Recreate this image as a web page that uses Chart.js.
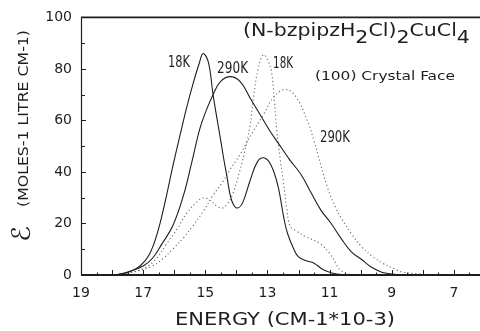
<!DOCTYPE html>
<html><head><meta charset="utf-8">
<script src="https://cdn.jsdelivr.net/npm/chart.js@4.4.1/dist/chart.umd.min.js"></script>
<style>html,body{margin:0;padding:0;background:#fff;overflow:hidden}</style>
</head><body>
<canvas id="c" width="480" height="331"></canvas>
<script>
// ---- data (energy in cm-1 * 10^-3, molar absorptivity) ----
const energyTicks = [7, 8, 9, 10, 11, 12, 13, 14, 15, 16, 17, 18, 19];
const energyLabels = [19, 17, 15, 13, 11, 9, 7];
const epsTicks = [0, 10, 20, 30, 40, 50, 60, 70, 80, 90, 100];
const epsLabels = [0, 20, 40, 60, 80, 100];

const solid18K_E = [18.6,18.0,17.7,17.4,17.1,16.8,16.55,16.3,16.05,15.8,15.6,15.4,15.2,15.07,14.9,14.75,14.6,14.5,14.42,14.3,14.2,14.1,13.97,13.8,13.55,13.32,13.12,12.9,12.67,12.47,12.35,12.15,12.0,11.75,11.5,11.2,10.9,10.6,10.0];
const solid18K_A = [0,0.1,0.4,1.5,3.5,8,16,28,42,55,65,74,82,86,82.5,70,59,52,46,38,31,27.5,26,28,37,44,45.5,43,35,22,16,10,7,5.5,4.6,2,0.7,0.2,0];

const solid290K_E = [18.6,17.8,17.4,17.0,16.7,16.4,16.05,15.7,15.43,15.17,14.95,14.75,14.52,14.2,13.87,13.55,13.2,12.9,12.67,12.3,11.92,11.6,11.27,10.95,10.62,10.3,9.97,9.65,9.3,8.8,8.3];
const solid290K_A = [0,0.3,1.5,3.5,6.5,12,19,31,44,57,64.5,70,75,77,75,68.5,61.5,55.5,51.5,45,39,32,25,20,14,9,6,3,1,0.2,0];

const dotted18K_E = [18.0,17.6,17.0,16.6,16.25,15.9,15.6,15.3,15.05,14.8,14.6,14.45,14.3,14.1,13.9,13.75,13.56,13.46,13.3,13.13,12.98,12.87,12.78,12.7,12.6,12.49,12.38,12.27,12.06,11.74,11.31,10.99,10.8,10.67,10.35,10.0];
const dotted18K_A = [0,0.5,2.5,6,12,18,24,28,30,28.5,26.5,26,27.5,32,40,47,58,68,80,85.5,83,79,68,56,46,36.5,26,19,17,14.7,12.2,8.3,4.5,2,0.2,0];

const dotted290K_E = [18.0,17.3,16.7,16.35,16.05,15.7,15.4,15.05,14.75,14.45,14.2,13.87,13.5,13.12,12.8,12.43,12.1,11.72,11.5,11.07,10.8,10.62,10.3,9.97,9.6,9.3,8.9,8.67,8.2,7.5,6.5];
const dotted290K_A = [0,1.2,3.5,6.5,10,14.5,19,25,31,36,41,47,55,62.5,69,72,69.5,60,52,34,26,22,16,11,7,4.6,2.3,1.2,0.5,0.1,0];

const pts = (E, A) => E.map((e, i) => ({x: e, y: A[i]}));

const INK = '#1e1e1e';
const FONT = "'DejaVu Sans', sans-serif";

function fitText(ctx, text, x, y, w, size, baseline) {
  ctx.save();
  ctx.font = size + 'px ' + FONT;
  ctx.textBaseline = baseline || 'middle';
  ctx.textAlign = 'left';
  const nat = ctx.measureText(text).width;
  ctx.translate(x, y);
  ctx.scale(w / nat, 1);
  ctx.fillText(text, 0, 0);
  ctx.restore();
}

const framePlugin = {
  id: 'frame',
  afterDatasetsDraw(chart) {
    const {ctx, chartArea: a, scales: {x, y}} = chart;
    ctx.save();
    ctx.strokeStyle = INK;
    ctx.lineWidth = 1.2;
    ctx.beginPath(); ctx.moveTo(a.left + 0.5, a.top); ctx.lineTo(a.left + 0.5, a.bottom); ctx.stroke();
    ctx.lineWidth = 1.8;
    ctx.beginPath(); ctx.moveTo(a.left, a.bottom); ctx.lineTo(a.right, a.bottom); ctx.stroke();
    ctx.lineWidth = 1.6;
    ctx.beginPath(); ctx.moveTo(a.left, a.top); ctx.lineTo(a.right, a.top); ctx.stroke();
    ctx.lineWidth = 1;
    epsTicks.forEach(v => {
      const py = Math.round(y.getPixelForValue(v)) + 0.5;
      const len = epsLabels.includes(v) ? 5 : 4;
      ctx.beginPath(); ctx.moveTo(a.left, py); ctx.lineTo(a.left + len, py); ctx.stroke();
    });
    energyTicks.forEach(v => {
      const px = Math.round(x.getPixelForValue(v)) + 0.5;
      ctx.beginPath(); ctx.moveTo(px, a.bottom); ctx.lineTo(px, a.bottom - 5); ctx.stroke();
      const ph = Math.round(x.getPixelForValue(v - 0.5)) + 0.5;
      if (ph > a.left && ph < a.right) { ctx.beginPath(); ctx.moveTo(ph, a.bottom); ctx.lineTo(ph, a.bottom - 2.5); ctx.stroke(); }
    });
    ctx.restore();
  }
};

const textPlugin = {
  id: 'texts',
  afterDraw(chart) {
    const {ctx, scales: {x, y}} = chart;
    ctx.save();
    ctx.fillStyle = INK;
    const at = (e, v) => [x.getPixelForValue(e), y.getPixelForValue(v)];
    // curve labels (anchored in data units)
    let p;
    p = at(16.20, 82.2); fitText(ctx, '18K', p[0], p[1], 22, 15);
    p = at(14.62, 79.9); fitText(ctx, '290K', p[0], p[1], 31, 15);
    p = at(12.82, 81.9); fitText(ctx, '18K', p[0], p[1], 20, 15);
    p = at(11.47, 77.2); fitText(ctx, '(100) Crystal Face', p[0], p[1], 140, 13);
    p = at(11.31, 53.3); fitText(ctx, '290K', p[0], p[1], 30, 15);

    // compound formula with subscripts
    const segs = [['(N-bzpipzH', 0], ['2', 7], ['Cl)', 0], ['2', 7], ['CuCl', 0], ['4', 7]];
    ctx.font = '18px ' + FONT;
    const nat = segs.reduce((s, g) => s + ctx.measureText(g[0]).width, 0);
    const sx = 227 / nat;
    p = at(13.79, 0);
    let cx = p[0];
    const base = 36;
    ctx.textBaseline = 'alphabetic';
    segs.forEach(g => {
      const w = ctx.measureText(g[0]).width;
      ctx.save(); ctx.translate(cx, base + g[1]); ctx.scale(sx, 1); ctx.fillText(g[0], 0, 0); ctx.restore();
      cx += w * sx;
    });

    // x axis title
    fitText(ctx, 'ENERGY (CM-1*10-3)', 175, 321, 220, 17);

    // y axis title (rotated)
    ctx.save();
    ctx.translate(24, 207);
    ctx.rotate(-Math.PI / 2);
    fitText(ctx, '(MOLES-1 LITRE CM-1)', 0, 0, 177, 14);
    ctx.restore();
    ctx.save();
    ctx.translate(23, 234);
    ctx.rotate(-Math.PI / 2);
    ctx.font = '26px ' + FONT;
    ctx.textAlign = 'center';
    ctx.textBaseline = 'middle';
    ctx.fillText('\u2130', 0, 0);
    ctx.restore();
    ctx.restore();
  }
};

const solidStyle = {borderColor: INK, borderWidth: 1.1};
const dotStyle = {borderColor: '#6a6a6a', borderWidth: 1.1, borderDash: [1.2, 2.6]};

new Chart(document.getElementById('c'), {
  type: 'line',
  data: {
    datasets: [
      Object.assign({label: '18K (solid)', data: pts(solid18K_E, solid18K_A)}, solidStyle),
      Object.assign({label: '290K (solid)', data: pts(solid290K_E, solid290K_A)}, solidStyle),
      Object.assign({label: '18K (dotted)', data: pts(dotted18K_E, dotted18K_A)}, dotStyle),
      Object.assign({label: '290K (dotted)', data: pts(dotted290K_E, dotted290K_A)}, dotStyle)
    ]
  },
  options: {
    responsive: false,
    animation: false,
    devicePixelRatio: 1,
    layout: {padding: {top: 15, left: 0, right: 0, bottom: 0}},
    elements: {point: {radius: 0}, line: {tension: 0.4, fill: false}},
    plugins: {legend: {display: false}, tooltip: {enabled: false}},
    scales: {
      x: {
        type: 'linear', min: 6.16, max: 19, reverse: true,
        afterBuildTicks: s => { s.ticks = energyTicks.map(v => ({value: v})); },
        afterFit: s => { s.height = 56; },
        grid: {display: false, drawTicks: false},
        border: {display: false},
        ticks: {
          autoSkip: false, maxRotation: 0, minRotation: 0, padding: 10, color: INK,
          font: {family: FONT, size: 14},
          callback: v => energyLabels.includes(v) ? String(v) : ''
        }
      },
      y: {
        type: 'linear', min: 0, max: 100,
        afterBuildTicks: s => { s.ticks = epsTicks.map(v => ({value: v})); },
        afterFit: s => { s.width = 81; },
        grid: {display: false, drawTicks: false},
        border: {display: false},
        ticks: {
          padding: 9, color: INK,
          font: {family: FONT, size: 14},
          callback: v => epsLabels.includes(v) ? String(v) : ''
        }
      }
    }
  },
  plugins: [framePlugin, textPlugin]
});
</script>
</body></html>
